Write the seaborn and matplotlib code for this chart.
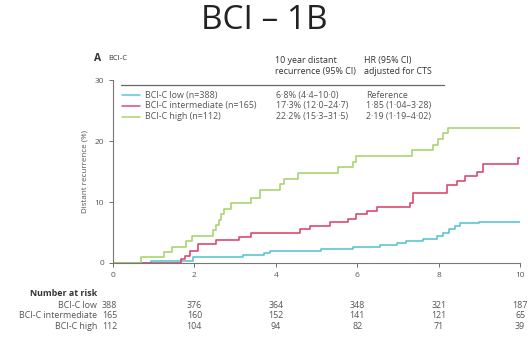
import numpy as np
import pandas as pd
import seaborn as sns
import matplotlib.pyplot as plt

# step curves: (time in years, cumulative % recurrence)
low_t = [0, 0.94, 1.97, 3.2, 3.7, 3.85, 5.1, 5.9, 6.56, 6.97, 7.2, 7.62, 7.95, 8.1, 8.26, 8.4, 8.52, 8.98, 10]
low_y = [0, 0.4, 1.0, 1.3, 1.6, 2.0, 2.3, 2.6, 2.9, 3.2, 3.6, 4.0, 4.5, 5.0, 5.5, 6.0, 6.5, 6.8, 6.8]

mid_t = [0, 1.68, 1.76, 1.88, 2.09, 2.54, 3.1, 3.4, 4.6, 4.84, 5.33, 5.78, 5.98, 6.23, 6.48, 7.3, 7.38, 8.2, 8.44, 8.65, 8.93, 9.1, 9.96, 10]
mid_y = [0, 0.6, 1.2, 2.0, 3.1, 3.7, 4.3, 4.9, 5.5, 6.1, 6.7, 7.3, 8.0, 8.6, 9.2, 9.8, 11.5, 12.8, 13.5, 14.2, 15.0, 16.2, 17.3, 17.3]

high_t = [0, 0.7, 1.25, 1.45, 1.8, 1.95, 2.45, 2.52, 2.6, 2.65, 2.72, 2.9, 3.4, 3.6, 4.1, 4.2, 4.55, 5.53, 5.9, 5.98, 7.34, 7.87, 7.98, 8.1, 8.24, 10]
high_y = [0, 0.9, 1.8, 2.7, 3.6, 4.5, 5.4, 6.3, 7.1, 8.0, 8.9, 9.8, 10.7, 11.9, 12.9, 13.8, 14.8, 15.7, 16.6, 17.6, 18.5, 19.4, 20.4, 21.3, 22.2, 22.2]

groups = ["BCI-C low (n=388)", "BCI-C intermediate (n=165)", "BCI-C high (n=112)"]
recur = ["6·8% (4·4–10·0)", "17·3% (12·0–24·7)", "22·2% (15·3–31·5)"]
hr = ["Reference", "1·85 (1·04–3·28)", "2·19 (1·19–4·02)"]
colors = ["#5cc6d0", "#d94c70", "#a9d46f"]

risk_times = [0, 2, 4, 6, 8, 10]
risk_names = ["BCI-C low", "BCI-C intermediate", "BCI-C high"]
risk_low = [388, 376, 364, 348, 321, 187]
risk_mid = [165, 160, 152, 141, 121, 65]
risk_high = [112, 104, 94, 82, 71, 39]

frames = []
for name, t, y in zip(groups, [low_t, mid_t, high_t], [low_y, mid_y, high_y]):
    frames.append(pd.DataFrame({"time": t, "pct": y, "group": name}))
df = pd.concat(frames)

sns.set_style("ticks")
plt.rcParams["font.family"] = ["Open Sans", "DejaVu Sans"]
txt = "#555555"
fs = 6.4

fig = plt.figure(figsize=(5.28, 3.46), dpi=100)
ax = fig.add_axes([0.214, 0.240, 0.771, 0.528])

sns.lineplot(data=df, x="time", y="pct", hue="group", palette=colors,
             drawstyle="steps-post", linewidth=1.2, legend=False, ax=ax)

ax.set_xlim(0, 10)
ax.set_ylim(0, 30)
ax.set_xticks([0, 2, 4, 6, 8, 10])
ax.set_yticks([0, 10, 20, 30])
ax.set_xlabel("")
ax.set_ylabel("Distant recurrence (%)", fontsize=5.8, color=txt, labelpad=4)
ax.tick_params(labelsize=6, colors=txt, length=3, width=0.6)
for s in ["top", "right"]:
    ax.spines[s].set_visible(False)
for s in ["left", "bottom"]:
    ax.spines[s].set_color("#777777")
    ax.spines[s].set_linewidth(0.8)

fig.text(0.5, 0.94, "BCI – 1B", ha="center", va="center", fontsize=24, color="#222222")
fig.text(0.178, 0.832, "A", fontsize=7.5, fontweight="bold", color="#333333", va="center")
fig.text(0.205, 0.832, "BCI-C", fontsize=5.5, color="#333333", va="center")

fig.text(0.52, 0.81, "10 year distant\nrecurrence (95% CI)", fontsize=fs, color="#333333",
         va="center", ha="left", linespacing=1.25)
fig.text(0.69, 0.81, "HR (95% CI)\nadjusted for CTS", fontsize=fs, color="#333333",
         va="center", ha="left", linespacing=1.25)
fig.add_artist(plt.Line2D([0.23, 0.84], [0.755, 0.755], color="#666666", lw=0.9))

for i in range(3):
    yy = 0.725 - i * 0.031
    fig.add_artist(plt.Line2D([0.232, 0.265], [yy, yy], color=colors[i], lw=1.1))
    fig.text(0.275, yy, groups[i], fontsize=fs, color=txt, va="center")
    fig.text(0.522, yy, recur[i], fontsize=fs, color=txt, va="center")
    fig.text(0.694, yy, hr[i], fontsize=fs, color=txt, va="center")

# number at risk table
fig.text(0.184, 0.153, "Number at risk", fontsize=fs, fontweight="bold", color="#333333",
         ha="right", va="center")
for i, (name, vals) in enumerate(zip(risk_names, [risk_low, risk_mid, risk_high])):
    yy = 0.118 - i * 0.031
    fig.text(0.184, yy, name, fontsize=fs, color=txt, ha="right", va="center")
    for t, v in zip(risk_times, vals):
        xf = ax.transData.transform((t, 0))[0] / fig.bbox.width
        if t == 0:
            xf = 0.208
        fig.text(xf, yy, str(v), fontsize=fs, color=txt, ha="center", va="center")

fig.savefig("out.png", dpi=100)
